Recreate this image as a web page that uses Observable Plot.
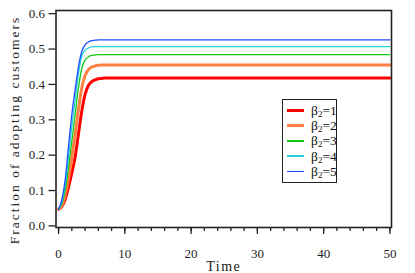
<!DOCTYPE html>
<html>
<head>
<meta charset="utf-8">
<script src="https://cdn.jsdelivr.net/npm/d3@7"></script>
<script src="https://cdn.jsdelivr.net/npm/@observablehq/plot@0.6"></script>
<style>
  html, body { margin: 0; padding: 0; background: #fff; }
  #wrap { position: relative; width: 415px; height: 273px; }
  #legend { position: absolute; left: 282px; top: 99px; width: 53px; height: 82px;
    border: 1.5px solid #222; background: #fff; font-family: "Liberation Serif", serif; font-size: 13.5px; }
  .row { position: absolute; left: 0; height: 15px; display: flex; align-items: center; }
  .sw { display: inline-block; width: 17px; margin-left: 4px; margin-right: 7px; }
  .lab { line-height: 13px; color: #111; }
  .lab sub { font-size: 9px; vertical-align: -2px; line-height: 0; }
</style>
</head>
<body>
<div id="wrap"><div id="chart"></div><div id="legend"></div></div>
<script>
// Data
const time   = [0, 0.5, 1, 1.5, 2, 2.5, 3, 3.5, 4, 4.5, 5, 5.5, 6, 6.5, 7, 8, 50];
const beta1  = [0.047, 0.055, 0.075, 0.11, 0.15, 0.195, 0.26, 0.325, 0.372, 0.397, 0.408, 0.413, 0.416, 0.417, 0.418, 0.418, 0.418];
const beta2  = [0.047, 0.058, 0.088, 0.135, 0.195, 0.26, 0.33, 0.39, 0.425, 0.442, 0.449, 0.452, 0.454, 0.455, 0.455, 0.455, 0.455];
const beta3  = [0.047, 0.063, 0.10, 0.165, 0.24, 0.315, 0.39, 0.445, 0.469, 0.478, 0.482, 0.483, 0.484, 0.484, 0.484, 0.484, 0.484];
const beta4  = [0.047, 0.068, 0.115, 0.195, 0.28, 0.355, 0.43, 0.48, 0.497, 0.503, 0.506, 0.507, 0.507, 0.507, 0.507, 0.507, 0.507];
const beta5  = [0.047, 0.075, 0.13, 0.225, 0.315, 0.385, 0.45, 0.493, 0.512, 0.52, 0.524, 0.525, 0.526, 0.526, 0.526, 0.526, 0.526];
const seriesNames = ["β2=1", "β2=2", "β2=3", "β2=4", "β2=5"];
const seriesColors = ["#ff0000", "#ff8040", "#10c810", "#28d0d8", "#1a4dff"];
const seriesWidths = [3, 3, 1.3, 1.3, 1.3];
const yTicks = [0, 0.1, 0.2, 0.3, 0.4, 0.5, 0.6];
const xTicks = [0, 10, 20, 30, 40, 50];
const xMinorTicks = d3.range(0, 51, 2);

const allSeries = [beta1, beta2, beta3, beta4, beta5];
const rows = [];
allSeries.forEach((vals, i) => vals.forEach((v, j) => rows.push({t: time[j], v, s: seriesNames[i]})));

const lineMarks = seriesNames.map((name, i) =>
  Plot.line(rows.filter(d => d.s === name), {
    x: "t", y: "v", stroke: seriesColors[i], strokeWidth: seriesWidths[i], curve: "monotone-x"
  })
);

const chart = Plot.plot({
  width: 415,
  height: 273,
  marginLeft: 55.5,
  marginRight: 24,
  marginTop: 10,
  marginBottom: 46,
  style: { fontFamily: "Liberation Serif, serif", fontSize: "12px", color: "#222", background: "#fff" },
  x: { domain: [-0.39, 50.24] },
  y: { domain: [-0.0045, 0.609] },
  marks: [
    ...lineMarks,
    Plot.frame({ stroke: "#222", strokeWidth: 1.6 }),
    Plot.axisY(yTicks, { tickSize: 7, tickPadding: 4, tickFormat: d3.format(".1f"), label: null, fontSize: 13, strokeWidth: 1.3 }),
    Plot.axisY([], { label: "Fraction of adopting customers", labelAnchor: "center", labelOffset: 47, labelArrow: "none", fontSize: 13.5 }),
    Plot.axisX(xMinorTicks, { tickSize: 4, tickFormat: () => "", label: null, strokeWidth: 1.3 }),
    Plot.axisX(xTicks, { tickSize: 7, tickPadding: 14, label: null, fontSize: 13, strokeWidth: 1.3 }),
    Plot.axisX([], { label: "Time", labelAnchor: "center", labelOffset: 43, labelArrow: "none", fontSize: 14 })
  ]
});
document.getElementById("chart").appendChild(chart);
d3.select(chart).selectAll('g[aria-label="y-axis label"] text')
  .style("letter-spacing", "2px").attr("dx", -11);
d3.select(chart).selectAll('g[aria-label="x-axis label"] text').style("letter-spacing", "1.5px");

// legend
const leg = document.getElementById("legend");
seriesNames.forEach((name, i) => {
  const row = document.createElement("div");
  row.className = "row";
  row.style.top = (3 + i * 15.2) + "px";
  const sw = document.createElement("span");
  sw.className = "sw";
  sw.style.height = seriesWidths[i] + "px";
  sw.style.background = seriesColors[i];
  const lab = document.createElement("span");
  lab.className = "lab";
  lab.innerHTML = name.replace("β2", "β<sub>2</sub>");
  row.appendChild(sw); row.appendChild(lab);
  leg.appendChild(row);
});
</script>
</body>
</html>
